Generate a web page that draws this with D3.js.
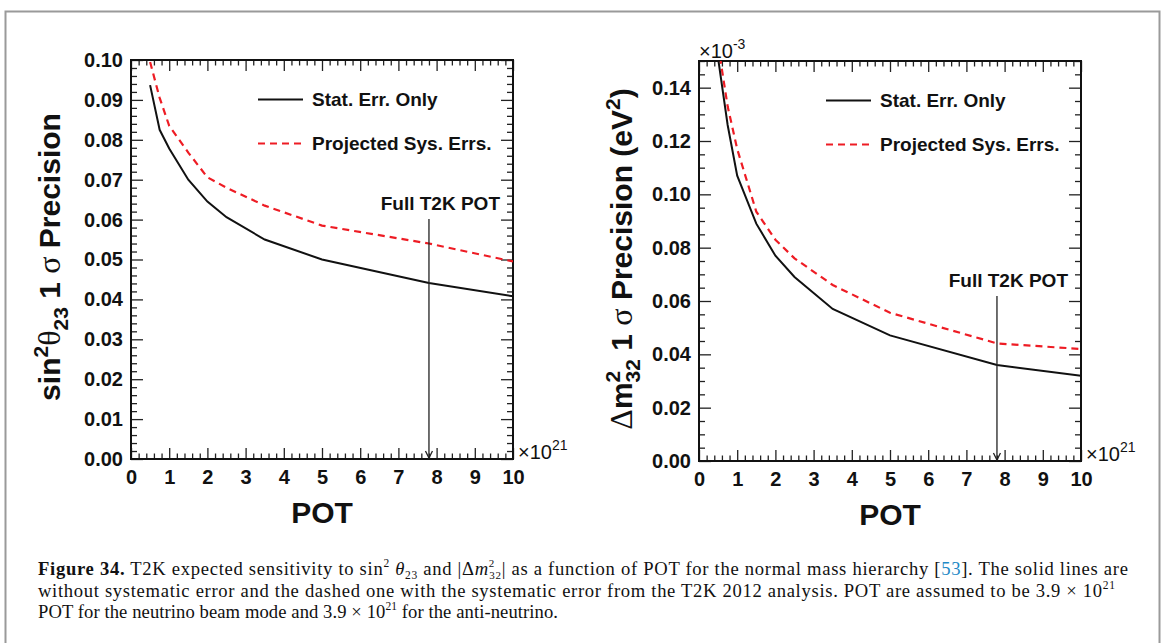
<!DOCTYPE html>
<html>
<head>
<meta charset="utf-8">
<script src="https://cdn.jsdelivr.net/npm/d3@7"></script>
<style>
  html, body { margin: 0; padding: 0; background: #fff; }
  svg { display: block; }
</style>
</head>
<body>
<svg id="chart" width="1168" height="643"></svg>
<script>
// ---------------- data ----------------
const potValues = [0.5, 0.75, 1, 1.5, 2, 2.5, 3.5, 5, 7.8, 10];          // POT (x10^21)
const th23Stat  = [0.0937, 0.0825, 0.0778, 0.0700, 0.0645, 0.0606, 0.0550, 0.0500, 0.0441, 0.0408];
const th23Sys   = [0.0995, 0.0905, 0.0835, 0.0768, 0.0706, 0.0680, 0.0635, 0.0585, 0.0540, 0.0495];
const dm32Stat  = [0.151, 0.126, 0.107, 0.0890, 0.0770, 0.0690, 0.0570, 0.0471, 0.0360, 0.0320]; // x10^-3 eV^2
const dm32Sys   = [0.156, 0.133, 0.117, 0.0935, 0.0830, 0.0760, 0.0660, 0.0556, 0.0441, 0.0420];
const fullPOT = 7.8;
const xTicks = [0,1,2,3,4,5,6,7,8,9,10];
const th23Ticks = [0,0.01,0.02,0.03,0.04,0.05,0.06,0.07,0.08,0.09,0.10];
const dm32Ticks = [0,0.02,0.04,0.06,0.08,0.10,0.12,0.14];
const legendLabels = ["Stat. Err. Only", "Projected Sys. Errs."];
const annotationLabel = "Full T2K POT";
const xTitle = "POT";

const svg = d3.select("#chart");
const RED = "#ee1c24";

// outer figure frame
svg.append("rect").attr("x", 5.5).attr("y", 11.5).attr("width", 1154).attr("height", 700)
  .attr("fill", "none").attr("stroke", "#9a9a9a").attr("stroke-width", 2);

function panel(cfg) {
  const x = d3.scaleLinear().domain([0, 10]).range([cfg.left, cfg.right]);
  const y = d3.scaleLinear().domain([0, cfg.ymax]).range([cfg.bottom, cfg.top]);
  const g = svg.append("g");

  const clipId = "clip" + cfg.id;
  svg.append("clipPath").attr("id", clipId).append("rect")
    .attr("x", cfg.left).attr("y", cfg.top)
    .attr("width", cfg.right - cfg.left).attr("height", cfg.bottom - cfg.top);

  const xMinor = d3.range(0, 10.001, 0.2).filter(v => Math.abs(v - Math.round(v)) > 1e-6);
  const yMinor = d3.range(0, cfg.ymax + 1e-9, cfg.yMinorStep)
    .filter(v => !cfg.yTicks.some(t => Math.abs(t - v) < 1e-9));

  // bottom axis
  const gb = g.append("g").attr("transform", `translate(0,${cfg.bottom})`);
  gb.call(d3.axisBottom(x).tickValues(xTicks).tickSize(-11).tickPadding(11).tickFormat(d3.format("d")));
  gb.append("g").call(d3.axisBottom(x).tickValues(xMinor).tickSize(-5.5).tickFormat(""));
  // top axis
  const gt = g.append("g").attr("transform", `translate(0,${cfg.top})`);
  gt.call(d3.axisTop(x).tickValues(xTicks).tickSize(-11).tickFormat(""));
  gt.append("g").call(d3.axisTop(x).tickValues(xMinor).tickSize(-5.5).tickFormat(""));
  // left axis
  const gl = g.append("g").attr("transform", `translate(${cfg.left},0)`);
  gl.call(d3.axisLeft(y).tickValues(cfg.yTicks).tickSize(-12).tickPadding(8).tickFormat(d3.format(".2f")));
  gl.append("g").call(d3.axisLeft(y).tickValues(yMinor).tickSize(-6).tickFormat(""));
  // right axis
  const gr = g.append("g").attr("transform", `translate(${cfg.right},0)`);
  gr.call(d3.axisRight(y).tickValues(cfg.yTicks).tickSize(-12).tickFormat(""));
  gr.append("g").call(d3.axisRight(y).tickValues(yMinor).tickSize(-6).tickFormat(""));

  g.selectAll(".domain").remove();
  g.selectAll(".tick line").attr("stroke", "#222").attr("stroke-width", 1.3);
  g.selectAll(".tick text").attr("font-family", "'Liberation Sans', Arial, sans-serif")
    .attr("font-weight", "bold").attr("font-size", 20).attr("fill", "#111");

  // frame
  g.append("rect").attr("x", cfg.left).attr("y", cfg.top)
    .attr("width", cfg.right - cfg.left).attr("height", cfg.bottom - cfg.top)
    .attr("fill", "none").attr("stroke", "#111").attr("stroke-width", 2);

  // curves
  const line = d3.line().x(d => x(d[0])).y(d => y(d[1]));
  const cg = g.append("g").attr("clip-path", `url(#${clipId})`);
  cg.append("path").datum(potValues.map((p, i) => [p, cfg.sys[i]]))
    .attr("d", line).attr("fill", "none").attr("stroke", RED)
    .attr("stroke-width", 2.2).attr("stroke-dasharray", "7,5");
  cg.append("path").datum(potValues.map((p, i) => [p, cfg.stat[i]]))
    .attr("d", line).attr("fill", "none").attr("stroke", "#111").attr("stroke-width", 2);

  // legend
  const lx0 = cfg.left + 127, lx1 = cfg.left + 172, tx = cfg.left + 181;
  g.append("line").attr("x1", lx0).attr("x2", lx1).attr("y1", cfg.top + 39.5).attr("y2", cfg.top + 39.5)
    .attr("stroke", "#111").attr("stroke-width", 2);
  g.append("line").attr("x1", lx0).attr("x2", lx1).attr("y1", cfg.top + 83.5).attr("y2", cfg.top + 83.5)
    .attr("stroke", RED).attr("stroke-width", 2.2).attr("stroke-dasharray", "7,5");
  const legFont = sel => sel.attr("font-family", "'Liberation Sans', Arial, sans-serif")
    .attr("font-weight", "bold").attr("font-size", 19).attr("fill", "#111");
  g.append("text").attr("x", tx).attr("y", cfg.top + 46).text(legendLabels[0]).call(legFont);
  g.append("text").attr("x", tx).attr("y", cfg.top + 90).text(legendLabels[1]).call(legFont);

  // annotation arrow
  const ax = x(fullPOT);
  g.append("text").attr("x", cfg.right - 13).attr("y", cfg.annY).attr("text-anchor", "end")
    .text(annotationLabel).call(legFont);
  g.append("line").attr("x1", ax).attr("x2", ax).attr("y1", cfg.annY + 9).attr("y2", cfg.bottom - 1)
    .attr("stroke", "#222").attr("stroke-width", 1.3);
  g.append("path").attr("d", `M${ax - 3.5},${cfg.bottom - 8} L${ax},${cfg.bottom - 1} L${ax + 3.5},${cfg.bottom - 8}`)
    .attr("fill", "none").attr("stroke", "#222").attr("stroke-width", 1.3);

  // x title
  g.append("text").attr("x", (cfg.left + cfg.right) / 2).attr("y", cfg.bottom + 64)
    .attr("text-anchor", "middle").attr("font-family", "'Liberation Sans', Arial, sans-serif")
    .attr("font-weight", "bold").attr("font-size", 30).attr("fill", "#111").text(xTitle);

  // x10^21
  const m = g.append("text").attr("x", cfg.right + 5).attr("y", cfg.bottom)
    .attr("font-family", "'Liberation Sans', Arial, sans-serif").attr("font-size", 20).attr("fill", "#111");
  m.append("tspan").text("\u00d710");
  m.append("tspan").attr("dy", -9).attr("font-size", 14).text("21");

  return { x, y, g };
}

const L = panel({ id: "L", left: 131, right: 513, top: 60, bottom: 459, ymax: 0.1,
  yTicks: th23Ticks, yMinorStep: 0.002, stat: th23Stat, sys: th23Sys, annY: 210 });
const R = panel({ id: "R", left: 699, right: 1081, top: 61, bottom: 461, ymax: 0.15,
  yTicks: dm32Ticks, yMinorStep: 0.005, stat: dm32Stat, sys: dm32Sys, annY: 287 });

// x10^-3 on right panel
const e3 = svg.append("text").attr("x", 699).attr("y", 58)
  .attr("font-family", "'Liberation Sans', Arial, sans-serif").attr("font-size", 20).attr("fill", "#111");
e3.append("tspan").text("\u00d710");
e3.append("tspan").attr("dy", -9).attr("font-size", 14).text("-3");

// y titles
const bold = "'Liberation Sans', Arial, sans-serif";
const sym = "'Liberation Serif', 'Times New Roman', serif";
function yTitle(xb, yc, parts) {
  const t = svg.append("text").attr("transform", `translate(${xb},${yc}) rotate(-90)`)
    .attr("text-anchor", "middle").attr("font-family", bold).attr("font-weight", "bold")
    .attr("font-size", 30).attr("fill", "#111");
  parts.forEach(p => {
    const s = t.append("tspan").text(p.t);
    if (p.dy) s.attr("dy", p.dy);
    if (p.dx) s.attr("dx", p.dx);
    if (p.fs) s.attr("font-size", p.fs);
    if (p.sym) s.attr("font-family", sym).attr("font-weight", "normal").attr("font-size", p.fs || 32);
  });
}
yTitle(60, 257, [
  { t: "sin" }, { t: "2", dy: -12, fs: 21 }, { t: "\u03b8", dy: 12, sym: true },
  { t: "23", dy: 8, fs: 21 }, { t: " 1 ", dy: -8 }, { t: "\u03c3", sym: true }, { t: " Precision" }
]);
yTitle(632, 259, [
  { t: "\u0394", sym: true }, { t: "m" }, { t: "2", dy: -12, fs: 21 },
  { t: "32", dx: -11.7, dy: 20, fs: 21 }, { t: " 1 ", dy: -8 }, { t: "\u03c3", sym: true },
  { t: " Precision (eV" }, { t: "2", dy: -12, fs: 21 }, { t: ")", dy: 12 }
]);

// caption
const cap = svg.append("g").attr("font-family", "'Liberation Serif', 'Times New Roman', serif")
  .attr("font-size", 18.6).attr("fill", "#111");
const l1 = cap.append("text").attr("x", 38).attr("y", 575).attr("textLength", 1090).attr("lengthAdjust", "spacing");
l1.append("tspan").attr("font-weight", "bold").text("Figure 34.");
l1.append("tspan").text(" T2K expected sensitivity to sin");
l1.append("tspan").attr("dy", -8).attr("font-size", 11.5).text("2");
l1.append("tspan").attr("dy", 8).attr("font-style", "italic").text(" \u03b8");
l1.append("tspan").attr("dy", 3.5).attr("font-size", 11.5).text("23");
l1.append("tspan").attr("dy", -3.5).text(" and |\u0394");
l1.append("tspan").attr("font-style", "italic").text("m");
l1.append("tspan").attr("dy", -8.5).attr("font-size", 11).text("2");
l1.append("tspan").attr("dx", -5.8).attr("dy", 12).attr("font-size", 11).text("32");
l1.append("tspan").attr("dy", -3.5).text("| as a function of POT for the normal mass hierarchy [");
l1.append("tspan").attr("fill", "#1f8ac6").text("53");
l1.append("tspan").text("]. The solid lines are");

const l2 = cap.append("text").attr("x", 38).attr("y", 597).attr("textLength", 1077).attr("lengthAdjust", "spacing");
l2.append("tspan").text("without systematic error and the dashed one with the systematic error from the T2K 2012 analysis. POT are assumed to be 3.9 \u00d7 10");
l2.append("tspan").attr("dy", -8).attr("font-size", 11.5).text("21");

const l3 = cap.append("text").attr("x", 38).attr("y", 618).attr("textLength", 520).attr("lengthAdjust", "spacing");
l3.append("tspan").text("POT for the neutrino beam mode and 3.9 \u00d7 10");
l3.append("tspan").attr("dy", -8).attr("font-size", 11.5).text("21");
l3.append("tspan").attr("dy", 8).text(" for the anti-neutrino.");
</script>
</body>
</html>
